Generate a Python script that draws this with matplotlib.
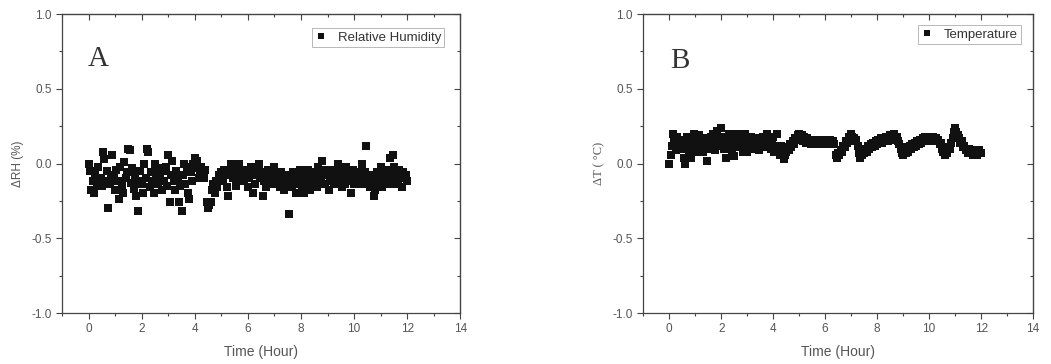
import numpy as np
import matplotlib
matplotlib.use('Agg')
import matplotlib.pyplot as plt
from matplotlib.ticker import MultipleLocator

# sampling: one reading every 3 minutes over 12 hours
time_h = np.arange(0, 241) * 0.05

rh_delta = [
    0.00, -0.05, -0.18, -0.12, -0.20, -0.08, -0.15, -0.02, -0.13, -0.10, -0.15, 0.08, 0.03, -0.12, -0.05, -0.30, -0.14, -0.08, 0.06, -0.10,
    -0.18, -0.04, -0.12, -0.24, -0.02, -0.15, -0.20, 0.01, -0.10, -0.06, 0.10, 0.09, -0.13, -0.03, -0.17, -0.08, -0.22, -0.32, -0.12, -0.05,
    -0.14, -0.20, 0.00, -0.10, 0.10, 0.08, -0.16, -0.06, -0.12, -0.20, 0.00, -0.08, -0.14, -0.03, -0.10, -0.18, -0.05, -0.12, -0.02, -0.15,
    0.06, -0.26, -0.08, 0.02, -0.12, -0.18, -0.05, -0.10, -0.26, -0.15, -0.32, -0.08, 0.00, -0.14, -0.02, -0.20, -0.24, -0.06, -0.12, 0.00,
    0.04, -0.03, 0.02, -0.10, -0.06, -0.02, -0.08, -0.10, -0.04, -0.26, -0.30, -0.28, -0.26, -0.18, -0.14, -0.20, -0.12, -0.16, -0.08, -0.10,
    -0.06, -0.12, -0.04, -0.08, -0.16, -0.22, -0.06, 0.00, 0.00, -0.10, -0.04, -0.15, -0.08, 0.00, -0.05, -0.10, -0.06, -0.12, -0.04, -0.08,
    -0.16, -0.10, -0.02, -0.08, -0.20, -0.14, -0.04, -0.02, 0.00, -0.10, -0.06, -0.22, -0.12, -0.08, -0.16, -0.04, -0.10, -0.14, -0.06, -0.12,
    -0.02, -0.10, -0.08, -0.14, -0.16, -0.06, -0.10, -0.18, -0.12, -0.08, -0.14, -0.34, -0.10, -0.16, -0.06, -0.12, -0.20, -0.08, -0.14, -0.04,
    -0.12, -0.16, -0.20, -0.08, -0.14, -0.04, -0.10, -0.18, -0.12, -0.06, -0.14, -0.08, -0.16, -0.02, -0.10, -0.12, 0.02, -0.06, -0.14, -0.04,
    -0.08, -0.18, -0.12, -0.04, -0.10, -0.14, -0.06, -0.08, 0.00, -0.12, -0.10, -0.16, -0.06, -0.14, -0.02, -0.08, -0.12, -0.10, -0.20, -0.04,
    -0.14, -0.08, -0.12, -0.06, -0.14, -0.10, 0.00, -0.12, -0.06, 0.12, -0.14, -0.08, -0.16, -0.10, -0.12, -0.22, -0.18, -0.06, -0.14, -0.10,
    -0.02, -0.16, -0.08, -0.12, -0.04, -0.14, -0.06, 0.04, -0.10, 0.06, -0.02, -0.14, -0.08, -0.12, -0.04, -0.10, -0.16, -0.06, -0.10, -0.08,
    -0.12,
]

temp_delta = [
    0.00, 0.06, 0.12, 0.20, 0.15, 0.09, 0.18, 0.12, 0.16, 0.10, 0.14, 0.04, 0.00, 0.12, 0.18, 0.07, 0.15, 0.04, 0.11, 0.20,
    0.08, 0.16, 0.12, 0.19, 0.10, 0.14, 0.08, 0.17, 0.12, 0.02, 0.15, 0.10, 0.18, 0.13, 0.20, 0.09, 0.16, 0.22, 0.12, 0.18,
    0.24, 0.14, 0.10, 0.18, 0.04, 0.15, 0.20, 0.12, 0.08, 0.17, 0.05, 0.14, 0.20, 0.11, 0.16, 0.18, 0.13, 0.08, 0.20, 0.15,
    0.08, 0.16, 0.12, 0.18, 0.14, 0.10, 0.17, 0.12, 0.15, 0.09, 0.16, 0.13, 0.18, 0.11, 0.15, 0.20, 0.12, 0.16, 0.10, 0.14,
    0.18, 0.08, 0.12, 0.20, 0.10, 0.06, 0.12, 0.08, 0.03, 0.06, 0.08, 0.11, 0.09, 0.13, 0.11, 0.15, 0.13, 0.17, 0.16, 0.19,
    0.20, 0.17, 0.19, 0.15, 0.18, 0.14, 0.17, 0.14, 0.16, 0.13, 0.16, 0.13, 0.15, 0.13, 0.16, 0.14, 0.16, 0.13, 0.16, 0.14,
    0.16, 0.13, 0.16, 0.14, 0.16, 0.13, 0.15, 0.13, 0.06, 0.04, 0.07, 0.06, 0.09, 0.08, 0.12, 0.11, 0.15, 0.14, 0.18, 0.17,
    0.20, 0.18, 0.17, 0.15, 0.16, 0.12, 0.07, 0.04, 0.06, 0.09, 0.07, 0.10, 0.08, 0.12, 0.10, 0.13, 0.11, 0.14, 0.12, 0.15,
    0.13, 0.16, 0.14, 0.17, 0.14, 0.17, 0.15, 0.18, 0.15, 0.17, 0.19, 0.16, 0.18, 0.20, 0.17, 0.18, 0.15, 0.13, 0.10, 0.07,
    0.06, 0.09, 0.07, 0.11, 0.08, 0.12, 0.10, 0.13, 0.11, 0.14, 0.12, 0.15, 0.13, 0.16, 0.14, 0.17, 0.15, 0.18, 0.16, 0.17,
    0.15, 0.18, 0.16, 0.18, 0.15, 0.17, 0.15, 0.16, 0.13, 0.14, 0.10, 0.08, 0.06, 0.09, 0.07, 0.11, 0.10, 0.14, 0.17, 0.21,
    0.24, 0.21, 0.19, 0.17, 0.14, 0.15, 0.11, 0.12, 0.09, 0.10, 0.07, 0.10, 0.07, 0.09, 0.06, 0.09, 0.07, 0.06, 0.09, 0.07,
    0.07,
]

x_ticks = [0, 2, 4, 6, 8, 10, 12, 14]
y_ticks = [-1.0, -0.5, 0.0, 0.5, 1.0]

plt.rcParams['font.family'] = ['Liberation Sans', 'DejaVu Sans']

fig = plt.figure(figsize=(10.51, 3.64), dpi=100)
ax_a = fig.add_axes([0.059, 0.140, 0.379, 0.8215])
ax_b = fig.add_axes([0.612, 0.140, 0.371, 0.8215])

text_col = '#555555'
axis_col = '#444444'


def style_axes(ax):
    ax.set_xlim(-1, 14)
    ax.set_ylim(-1.0, 1.0)
    ax.set_xticks(x_ticks)
    ax.set_yticks(y_ticks)
    ax.set_yticklabels([f"{v:.1f}" for v in y_ticks])
    ax.xaxis.set_minor_locator(MultipleLocator(1))
    ax.yaxis.set_minor_locator(MultipleLocator(0.25))
    ax.tick_params(which='both', direction='out', colors=axis_col,
                   labelcolor=text_col, labelsize=8.5, width=0.8)
    ax.tick_params(which='major', length=4)
    ax.tick_params(which='minor', length=2.5)
    for sp in ax.spines.values():
        sp.set_color(axis_col)
        sp.set_linewidth(0.9)
    # mirrored ticks on top/right, pointing inward
    top = ax.secondary_xaxis('top')
    top.set_xticks(x_ticks)
    top.xaxis.set_minor_locator(MultipleLocator(1))
    top.tick_params(which='both', direction='in', colors=axis_col,
                    labelleft=False, labeltop=False, width=0.8)
    top.tick_params(which='major', length=4)
    top.tick_params(which='minor', length=2.5)
    right = ax.secondary_yaxis('right')
    right.set_yticks(y_ticks)
    right.yaxis.set_minor_locator(MultipleLocator(0.25))
    right.tick_params(which='both', direction='in', colors=axis_col,
                      labelright=False, width=0.8)
    right.tick_params(which='major', length=4)
    right.tick_params(which='minor', length=2.5)
    ax.set_xlabel("Time (Hour)", fontsize=10, color=text_col, labelpad=7)


def add_legend(ax, anchor):
    leg = ax.legend(loc='upper right', fontsize=9.5, frameon=True, fancybox=False,
                    handlelength=0.8, handletextpad=0.9, borderpad=0.25,
                    borderaxespad=0.0, markerscale=0.8, bbox_to_anchor=anchor)
    leg.get_frame().set_edgecolor('#999999')
    leg.get_frame().set_linewidth(0.6)
    for t in leg.get_texts():
        t.set_color('#333333')


# Panel A: relative humidity
ax_a.plot(time_h, rh_delta, 's', color='#111111', markersize=5.3,
          markeredgewidth=0, label='Relative Humidity')
style_axes(ax_a)
ax_a.set_ylabel("\u0394RH (%)", fontsize=8.5, color=text_col, labelpad=5)
ax_a.text(0.065, 0.826, "A", transform=ax_a.transAxes, fontsize=21,
          family='Liberation Serif', color='#333333')
add_legend(ax_a, (0.96, 0.953))

# Panel B: temperature
ax_b.plot(time_h, temp_delta, 's', color='#111111', markersize=5.3,
          markeredgewidth=0, label='Temperature')
style_axes(ax_b)
ax_b.set_ylabel("\u0394T ( \u00b0C)", fontsize=9, color=text_col, labelpad=5,
                family='Liberation Serif')
ax_b.text(0.069, 0.82, "B", transform=ax_b.transAxes, fontsize=21,
          family='Liberation Serif', color='#333333')
add_legend(ax_b, (0.969, 0.963))

fig.savefig('out.png', dpi=100)
